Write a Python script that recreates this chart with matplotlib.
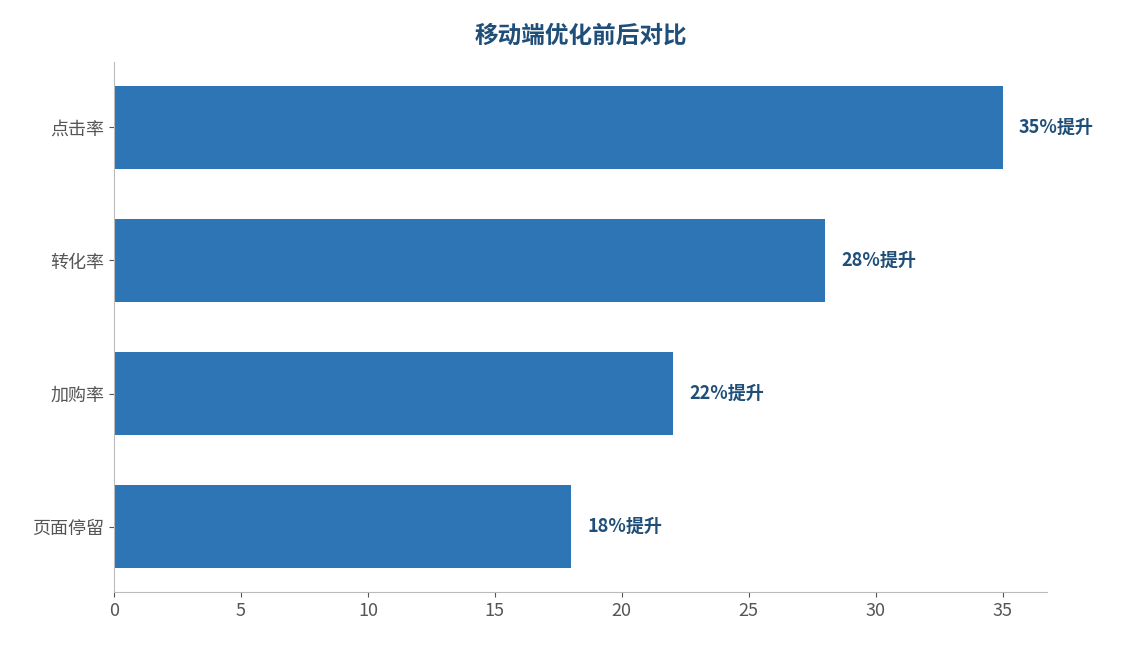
import matplotlib
matplotlib.use("Agg")
import matplotlib.pyplot as plt

plt.rcParams['font.family'] = ['Noto Sans CJK SC', 'DejaVu Sans']

categories = ["点击率", "转化率", "加购率", "页面停留"]
values = [35, 28, 22, 18]
labels = ["35%提升", "28%提升", "22%提升", "18%提升"]

fig = plt.figure(figsize=(11.23, 6.45), dpi=100)
ax = fig.add_axes([114/1123, 1-592/645, (1047-114)/1123, (592-62)/645])
ypos = list(range(len(categories)))[::-1]
ax.barh(ypos, values, height=0.62, color="#2E75B6")
for y, v, t in zip(ypos, values, labels):
    ax.text(v + 0.65, y, t, va="center", ha="left", fontsize=13, fontweight="bold", color="#1F4E79")
ax.set_yticks(ypos)
ax.set_yticklabels(categories)
ax.set_xticks([0, 5, 10, 15, 20, 25, 30, 35])
ax.tick_params(labelsize=13, colors="#555555")
ax.tick_params(axis='both', color="#555555")
for s in ["top", "right"]:
    ax.spines[s].set_visible(False)
for s in ["left", "bottom"]:
    ax.spines[s].set_color("#BBBBBB")
ax.set_title("移动端优化前后对比", fontsize=17, fontweight="bold", color="#1F4E79", pad=14)
fig.savefig("out.png", dpi=100)
